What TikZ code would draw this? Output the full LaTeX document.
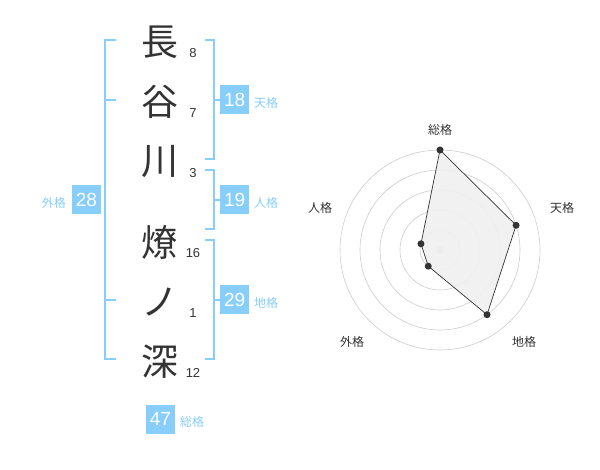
\documentclass[tikz,border=0pt]{standalone}
\usepackage{fontspec}
\setmainfont{Liberation Sans}
\newfontfamily\jp{Noto Sans CJK JP}
\definecolor{sky}{RGB}{135,206,250}
\definecolor{ink}{RGB}{51,51,51}
\begin{document}
\begin{tikzpicture}[x=1pt,y=-1pt,
  kanji/.style={font=\jp\fontsize{37}{37}\selectfont, text=ink, inner sep=0pt},
  stroke/.style={font=\fontsize{13}{13}\selectfont, text=ink, inner sep=0pt},
  valbox/.style={fill=sky, text=white, minimum width=29pt, minimum height=29pt, inner sep=0pt, font=\fontsize{19}{19}\selectfont},
  vallab/.style={text=sky, font=\jp\fontsize{12}{12}\selectfont, inner sep=0pt},
  brk/.style={draw=sky, line width=2pt},
  ring/.style={draw=black!20, line width=0.6pt},
  axlab/.style={text=ink, font=\jp\fontsize{12}{12}\selectfont, inner sep=0pt},
  pt/.style={circle, fill=ink, inner sep=0pt, minimum size=7pt}
]
\useasboundingbox (0,0) rectangle (600,470);
% kanji
\node[kanji] (k1) at (160,42) {長};
\node[kanji] (k2) at (160,102) {谷};
\node[kanji] (k3) at (160,162) {川};
\node[kanji] (k4) at (160,242) {燎};
\node[kanji] (k5) at (160,302) {ノ};
\node[kanji] (k6) at (160,362) {深};
% stroke counts
\node[stroke] (s1) at (193,53) {8};
\node[stroke] (s2) at (193,113) {7};
\node[stroke] (s3) at (193,173) {3};
\node[stroke] (s4) at (193,253) {16};
\node[stroke] (s5) at (193,313) {1};
\node[stroke] (s6) at (193,373) {12};
% left bracket (gaikaku)
\draw[brk] (116,40) -- (105,40) -- (105,359) -- (116,359);
\draw[brk] (105,100) -- (116,100);
\draw[brk] (105,300) -- (116,300);
\node[valbox] (gai) at (86.5,200) {28};
\node[vallab, anchor=east] (gail) at (66,203) {外格};
% right brackets
\coordinate (tenm) at (214,100);
\draw[brk] (205,40) -- (214,40) -- (214,159) -- (205,159);
\node[valbox, anchor=west] (ten) at (220,100) {18};
\draw[brk] (tenm) -- (ten.west);
\node[vallab, anchor=west] (tenl) at (254,103) {天格};
\coordinate (jinm) at (214,200);
\draw[brk] (205,170) -- (214,170) -- (214,229) -- (205,229);
\node[valbox, anchor=west] (jin) at (220,200) {19};
\draw[brk] (jinm) -- (jin.west);
\node[vallab, anchor=west] (jinl) at (254,203) {人格};
\coordinate (chim) at (214,300);
\draw[brk] (205,240) -- (214,240) -- (214,359) -- (205,359);
\node[valbox, anchor=west] (chi) at (220,300) {29};
\draw[brk] (chim) -- (chi.west);
\node[vallab, anchor=west] (chil) at (254,303) {地格};
% total
\node[valbox] (sou) at (160.5,419) {47};
\node[vallab, anchor=west] (soul) at (180,422) {総格};
% radar
\begin{scope}[shift={(440pt,-250pt)}, x=1pt, y=1pt]
  \foreach \r in {20,40,60,80,100} \draw[ring] (0,0) circle (\r);
  \node[circle, fill=black!20, inner sep=0pt, minimum size=8pt] (c0) at (0,0) {};
  \coordinate (p1) at (90:100);
  \coordinate (p2) at (18:80);
  \coordinate (p3) at (-54:80);
  \coordinate (p4) at (-126:20);
  \coordinate (p5) at (162:20);
  \draw[fill=black!6, fill opacity=0.9, draw=ink, line width=0.7pt] (p1) -- (p2) -- (p3) -- (p4) -- (p5) -- cycle;
  \foreach \i in {1,...,5} \node[pt] (d\i) at (p\i) {};
  \node[axlab] (a1) at (0,120) {総格};
  \node[axlab] (a2) at (122,42) {天格};
  \node[axlab] (a3) at (84,-92) {地格};
  \node[axlab] (a4) at (-88,-92) {外格};
  \node[axlab] (a5) at (-120,42) {人格};
\end{scope}
\end{tikzpicture}
\end{document}
